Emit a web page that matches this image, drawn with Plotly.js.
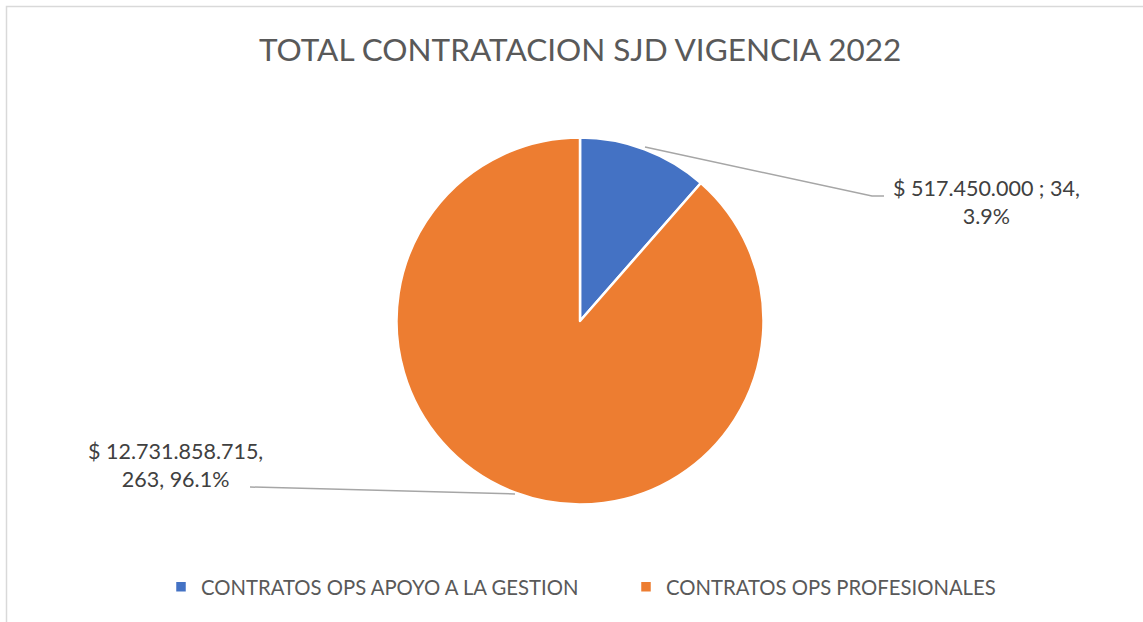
<!DOCTYPE html>
<html>
<head>
<meta charset="utf-8">
<script src="https://cdn.plot.ly/plotly-3.0.1.min.js"></script>
<style>html,body{margin:0;padding:0;background:#fff;}#chart{width:1143px;height:622px;}</style>
</head>
<body>
<div id="chart"></div>
<script>
var categories = ["CONTRATOS OPS APOYO A LA GESTION", "CONTRATOS OPS PROFESIONALES"];
var counts = [34, 263];
var amounts = ["$ 517.450.000", "$ 12.731.858.715"];
var amountShare = ["3.9%", "96.1%"];
var colors = ["#4472C4", "#ED7D31"];
var chartTitle = "TOTAL CONTRATACION SJD VIGENCIA 2022";

var W = 1143, H = 622;
function px(x){return x / W;}
function py(y){return 1 - y / H;}

var trace = {
  type: "pie",
  labels: categories,
  values: counts,
  sort: false,
  direction: "clockwise",
  rotation: 0,
  textinfo: "none",
  hoverinfo: "label+value",
  marker: {colors: colors, line: {color: "#ffffff", width: 2.5}},
  domain: {x: [px(580 - 183.5), px(580 + 183.5)], y: [py(321 + 183.5), py(321 - 183.5)]},
  showlegend: true
};

var labelFont = {family: "Lato, 'Open Sans', sans-serif", size: 21.5, color: "#404040"};

var annotations = [
  {xref: "paper", yref: "paper", x: px(986), y: py(202), xanchor: "center", yanchor: "middle",
   text: amounts[0] + " ; " + counts[0] + ",<br>" + amountShare[0], showarrow: false, align: "center", font: labelFont},
  {xref: "paper", yref: "paper", x: px(175), y: py(465), xanchor: "center", yanchor: "middle",
   text: amounts[1] + ",<br>" + counts[1] + ", " + amountShare[1], showarrow: false, align: "center", font: labelFont}
];

var lineStyle = {color: "#a6a6a6", width: 1.5};
var shapes = [
  {type: "path", xref: "paper", yref: "paper",
   path: "M " + px(645) + "," + py(147) + " L " + px(872) + "," + py(196) + " L " + px(884) + "," + py(196),
   line: lineStyle},
  {type: "line", xref: "paper", yref: "paper", x0: px(250), y0: py(487), x1: px(515), y1: py(494), line: lineStyle},
  {type: "rect", xref: "paper", yref: "paper", x0: px(6.5), y0: py(6.5), x1: px(1160), y1: py(640),
   line: {color: "#d9d9d9", width: 1.5}}
];

var layout = {
  width: W, height: H,
  margin: {l: 0, r: 0, t: 0, b: 0},
  paper_bgcolor: "#ffffff",
  title: {text: chartTitle, x: 0.5075, xanchor: "center", y: py(50), yanchor: "middle",
          font: {family: "Lato, 'Open Sans', sans-serif", size: 31.5, color: "#595959"}},
  legend: {orientation: "h", x: px(161), xanchor: "left", y: py(587), yanchor: "middle",
           font: {family: "Lato, 'Open Sans', sans-serif", size: 20.3, color: "#595959"},
           traceorder: "normal", entrywidth: 420, entrywidthmode: "pixels"},
  annotations: annotations,
  shapes: shapes
};

Plotly.newPlot("chart", [trace], layout, {displayModeBar: false, staticPlot: true});
</script>
</body>
</html>
